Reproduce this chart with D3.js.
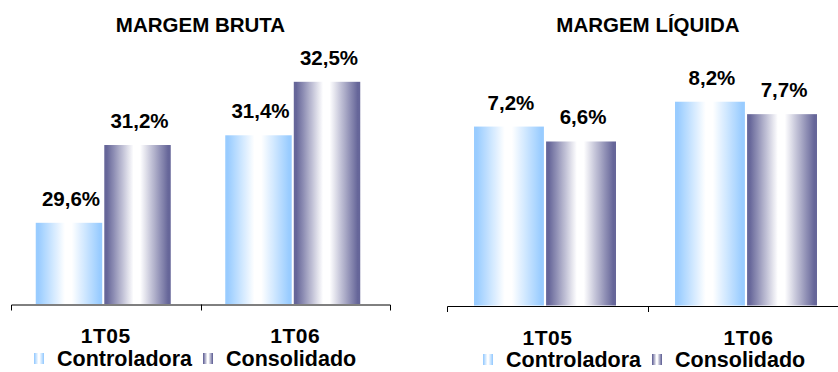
<!DOCTYPE html>
<html>
<head>
<meta charset="utf-8">
<script src="https://cdn.jsdelivr.net/npm/d3@7"></script>
<style>
  body { margin: 0; background: #fff; }
  svg text { font-family: "Liberation Sans", Arial, sans-serif; font-weight: bold; fill: #000; }
</style>
</head>
<body>
<svg id="chart" width="838" height="372"></svg>
<script>
const categories = ["1T05", "1T06"];
const seriesNames = ["Controladora", "Consolidado"];

// margem bruta (%)
const brutaControladora = [29.6, 31.4];
const brutaConsolidado = [31.2, 32.5];

// margem liquida (%)
const liquidaControladora = [7.2, 8.2];
const liquidaConsolidado = [6.6, 7.7];

const brutaDomain = [27.93, 34];
const liquidaDomain = [0, 12];

const svg = d3.select("#chart");
const defs = svg.append("defs");

// banded-looking gradient: edge colour -> white -> edge colour
const makeGradient = (id, edge) => {
  const g = defs.append("linearGradient")
    .attr("id", id)
    .attr("x1", "0%").attr("x2", "100%")
    .attr("y1", "0%").attr("y2", "0%");
  const interp = d3.interpolateRgb(edge, "#ffffff");
  const steps = 12;
  // left half: edge to white, right half: white to edge
  for (let i = 0; i <= steps; i++) {
    const t = i / steps;
    g.append("stop").attr("offset", (0.04 + t * 0.40) * 100 + "%").attr("stop-color", interp(t));
  }
  for (let i = 0; i <= steps; i++) {
    const t = i / steps;
    g.append("stop").attr("offset", (0.54 + t * 0.42) * 100 + "%").attr("stop-color", interp(1 - t));
  }
};
makeGradient("gradControladora", "#99ccff");
makeGradient("gradConsolidado", "#666699");
const fills = ["url(#gradControladora)", "url(#gradConsolidado)"];

const fmt = (v) => d3.format(".1f")(v).replace(".", ",") + "%";

const drawPanel = (opts) => {
  const g = svg.append("g");
  const x = d3.scaleBand().domain(categories).range(opts.xRange);
  const bw = x.bandwidth();
  const xs = d3.scaleBand()
    .domain(seriesNames)
    .range([(bw - opts.groupW) / 2 + opts.shift, (bw + opts.groupW) / 2 + opts.shift])
    .paddingInner(0.03);
  const y = d3.scaleLinear().domain(opts.domain).range([opts.axisY, opts.axisY - opts.pxPerUnit * (opts.domain[1] - opts.domain[0])]);

  // title
  g.append("text")
    .attr("x", (opts.xRange[0] + opts.xRange[1]) / 2)
    .attr("y", 31.5)
    .attr("text-anchor", "middle")
    .style("font-size", "20.5px")
    .text(opts.title);

  const rows = [];
  categories.forEach((c, i) => {
    opts.series.forEach((vals, s) => rows.push({ cat: c, s: s, v: vals[i] }));
  });

  g.selectAll("rect.bar")
    .data(rows)
    .join("rect")
    .attr("class", "bar")
    .attr("x", (d) => x(d.cat) + xs(seriesNames[d.s]))
    .attr("y", (d) => y(d.v))
    .attr("width", xs.bandwidth())
    .attr("height", (d) => opts.axisY - y(d.v))
    .attr("fill", (d) => fills[d.s]);

  g.selectAll("text.val")
    .data(rows)
    .join("text")
    .attr("class", "val")
    .attr("x", (d) => x(d.cat) + xs(seriesNames[d.s]) + xs.bandwidth() / 2 + 2)
    .attr("y", (d) => y(d.v) - 17)
    .attr("text-anchor", "middle")
    .style("font-size", "20.5px")
    .text((d) => fmt(d.v));

  // category axis
  const axis = g.append("g")
    .attr("transform", `translate(0,${opts.axisY + 0.5})`)
    .call(d3.axisBottom(x).tickSizeInner(0).tickSizeOuter(6).tickPadding(24));
  axis.select(".domain").attr("stroke", "#000").attr("stroke-width", 1);
  axis.selectAll(".tick text")
    .attr("font-family", null)
    .attr("font-size", null)
    .style("font-size", "21px")
    .style("letter-spacing", "0.5px");
  categories.slice(1).forEach((c) => {
    axis.append("line")
      .attr("x1", Math.round(x(c)) + 0.5).attr("x2", Math.round(x(c)) + 0.5)
      .attr("y1", 0).attr("y2", 6)
      .attr("stroke", "#000");
  });

  // legend
  const leg = g.append("g");
  seriesNames.forEach((name, s) => {
    leg.append("rect")
      .attr("x", opts.legendX[s])
      .attr("y", opts.legendY - 13)
      .attr("width", 10)
      .attr("height", 11)
      .attr("fill", fills[s]);
    leg.append("text")
      .attr("x", opts.legendX[s] + 23)
      .attr("y", opts.legendY)
      .style("font-size", "21.5px")
      .text(name);
  });
};

drawPanel({
  title: "MARGEM BRUTA",
  xRange: [11, 390],
  groupW: 135,
  shift: -2.5,
  axisY: 304,
  domain: brutaDomain,
  pxPerUnit: 48.62,
  series: [brutaControladora, brutaConsolidado],
  legendX: [34, 203],
  legendY: 366
});

drawPanel({
  title: "MARGEM LÍQUIDA",
  xRange: [447, 849],
  groupW: 142,
  shift: -2.5,
  axisY: 305.5,
  domain: liquidaDomain,
  pxPerUnit: 24.85,
  series: [liquidaControladora, liquidaConsolidado],
  legendX: [483, 652],
  legendY: 367
});
</script>
</body>
</html>
